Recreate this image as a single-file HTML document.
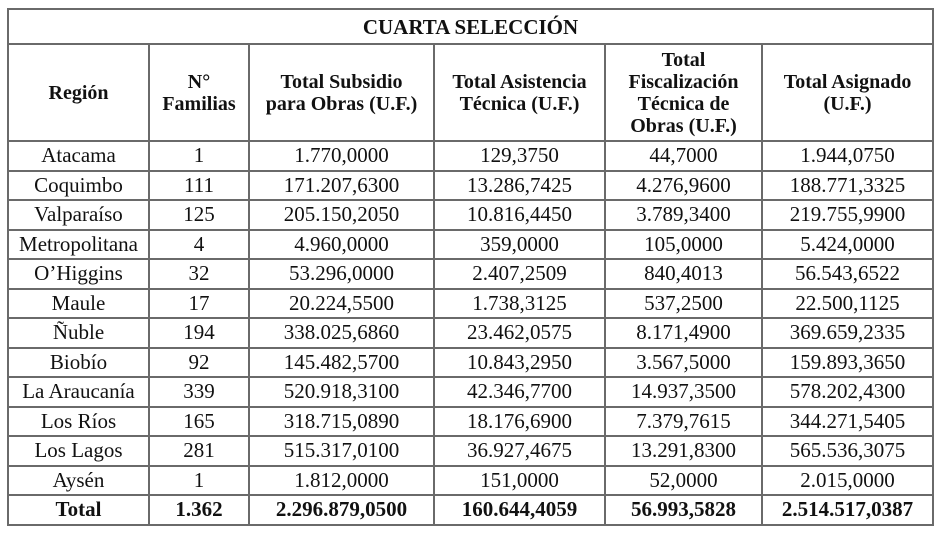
<!DOCTYPE html>
<html><head><meta charset="utf-8"><style>
body{margin:0;background:#fff;width:942px;height:538px;overflow:hidden;font-family:"Liberation Serif","Times New Roman","Nimbus Roman","DejaVu Serif",serif;color:#111}
table{position:absolute;left:7px;top:8px;border-collapse:collapse;table-layout:fixed;width:925px;font-family:"Liberation Serif","Times New Roman","Nimbus Roman","DejaVu Serif",serif}
td,th{border:2px solid #6a6a6a;text-align:center;padding:0;font-size:21px;line-height:21px;white-space:nowrap;font-family:"Liberation Serif","Times New Roman",serif}
th{font-weight:bold;font-size:20px;line-height:22px}
tr.r td{height:27.5px}
tr.t td{font-weight:bold}
</style></head><body>
<table>
<colgroup><col style="width:141px"><col style="width:100px"><col style="width:185px"><col style="width:171px"><col style="width:157px"><col style="width:171px"></colgroup>
<tr><th colspan="6" style="height:33px;font-size:21px">CUARTA SELECCIÓN</th></tr>
<tr style="height:97px">
<th>Región</th>
<th>N°<br>Familias</th>
<th>Total Subsidio<br>para Obras (U.F.)</th>
<th>Total Asistencia<br>Técnica (U.F.)</th>
<th>Total<br>Fiscalización<br>Técnica de<br>Obras (U.F.)</th>
<th>Total Asignado<br>(U.F.)</th>
</tr>
<tr class="r"><td>Atacama</td><td>1</td><td>1.770,0000</td><td>129,3750</td><td>44,7000</td><td>1.944,0750</td></tr>
<tr class="r"><td>Coquimbo</td><td>111</td><td>171.207,6300</td><td>13.286,7425</td><td>4.276,9600</td><td>188.771,3325</td></tr>
<tr class="r"><td>Valparaíso</td><td>125</td><td>205.150,2050</td><td>10.816,4450</td><td>3.789,3400</td><td>219.755,9900</td></tr>
<tr class="r"><td>Metropolitana</td><td>4</td><td>4.960,0000</td><td>359,0000</td><td>105,0000</td><td>5.424,0000</td></tr>
<tr class="r"><td>O’Higgins</td><td>32</td><td>53.296,0000</td><td>2.407,2509</td><td>840,4013</td><td>56.543,6522</td></tr>
<tr class="r"><td>Maule</td><td>17</td><td>20.224,5500</td><td>1.738,3125</td><td>537,2500</td><td>22.500,1125</td></tr>
<tr class="r"><td>Ñuble</td><td>194</td><td>338.025,6860</td><td>23.462,0575</td><td>8.171,4900</td><td>369.659,2335</td></tr>
<tr class="r"><td>Biobío</td><td>92</td><td>145.482,5700</td><td>10.843,2950</td><td>3.567,5000</td><td>159.893,3650</td></tr>
<tr class="r"><td>La Araucanía</td><td>339</td><td>520.918,3100</td><td>42.346,7700</td><td>14.937,3500</td><td>578.202,4300</td></tr>
<tr class="r"><td>Los Ríos</td><td>165</td><td>318.715,0890</td><td>18.176,6900</td><td>7.379,7615</td><td>344.271,5405</td></tr>
<tr class="r"><td>Los Lagos</td><td>281</td><td>515.317,0100</td><td>36.927,4675</td><td>13.291,8300</td><td>565.536,3075</td></tr>
<tr class="r"><td>Aysén</td><td>1</td><td>1.812,0000</td><td>151,0000</td><td>52,0000</td><td>2.015,0000</td></tr>
<tr class="r t"><td>Total</td><td>1.362</td><td>2.296.879,0500</td><td>160.644,4059</td><td>56.993,5828</td><td>2.514.517,0387</td></tr>
</table>
</body></html>
